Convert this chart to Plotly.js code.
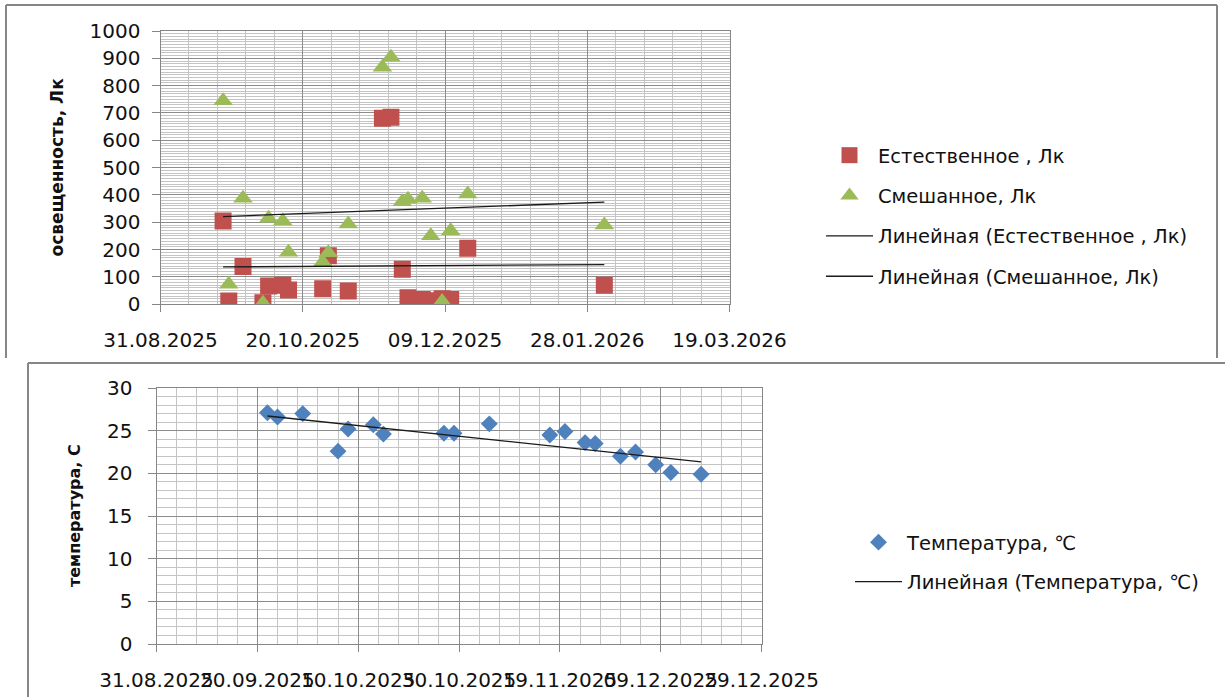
<!DOCTYPE html>
<html>
<head>
<meta charset="utf-8">
<script src="https://cdn.plot.ly/plotly-3.0.1.min.js"></script>
<style>
  html, body { margin: 0; padding: 0; background: #ffffff; }
  #chart { width: 1225px; height: 697px; }
</style>
</head>
<body>
<div id="chart"></div>
<script>
// Measurement dates for the illuminance series
const lightDates = [
  '2025-09-22', '2025-09-24', '2025-09-29', '2025-10-06', '2025-10-08',
  '2025-10-13', '2025-10-15', '2025-10-27', '2025-10-29', '2025-11-05',
  '2025-11-17', '2025-11-20', '2025-11-24', '2025-11-26', '2025-12-01',
  '2025-12-04', '2025-12-08', '2025-12-11', '2025-12-17', '2026-02-03'
];
// Natural light, lx
const naturalLux = [305, 12, 138, 6, 67, 70, 52, 57, 178, 49, 681, 684, 128, 24, 18, 13, 20, 18, 205, 70];
// Mixed light, lx
const mixedLux = [745, 73, 388, 4, 315, 305, 190, 154, 189, 294, 867, 904, 375, 384, 388, 251, 10, 269, 404, 290];

// Measurement dates for air temperature
const tempDates = [
  '2025-09-22', '2025-09-24', '2025-09-29', '2025-10-06', '2025-10-08',
  '2025-10-13', '2025-10-15', '2025-10-27', '2025-10-29', '2025-11-05',
  '2025-11-17', '2025-11-20', '2025-11-24', '2025-11-26', '2025-12-01',
  '2025-12-04', '2025-12-08', '2025-12-11', '2025-12-17'
];
// Air temperature, °C
const temperatureC = [27.1, 26.6, 27.0, 22.6, 25.2, 25.7, 24.6, 24.7, 24.7, 25.8, 24.5, 24.9, 23.6, 23.5, 22.0, 22.5, 21.0, 20.1, 19.9];

const seriesNames = {
  natural: 'Естественное , Лк',
  mixed: 'Смешанное, Лк',
  naturalTrend: 'Линейная (Естественное , Лк)',
  mixedTrend: 'Линейная (Смешанное, Лк)',
  temp: 'Температура, ℃',
  tempTrend: 'Линейная (Температура, ℃)'
};

const DAY = 86400000;

// Least-squares line over the date span of a series
function linearTrend(dates, values) {
  const xs = dates.map(d => Date.parse(d) / DAY);
  const n = xs.length;
  const mx = xs.reduce((a, b) => a + b, 0) / n;
  const my = values.reduce((a, b) => a + b, 0) / n;
  let sxy = 0, sxx = 0;
  for (let i = 0; i < n; i++) {
    sxy += (xs[i] - mx) * (values[i] - my);
    sxx += (xs[i] - mx) * (xs[i] - mx);
  }
  const k = sxy / sxx;
  const b = my - k * mx;
  const x0 = Math.min(...xs), x1 = Math.max(...xs);
  const iso = t => new Date(t * DAY).toISOString().slice(0, 10);
  return { x: [iso(x0), iso(x1)], y: [k * x0 + b, k * x1 + b] };
}

const W = 1225, H = 697;
const fx = p => p / W;          // pixel column -> paper x
const fy = p => 1 - p / H;      // pixel row -> paper y

const FONT = 'DejaVu Sans, sans-serif';
const TXT = '#111111';
const AXIS = '#868686';
const MAJOR = '#8c8c8c';
const MINOR = '#c4c4c4';

const trendNat = linearTrend(lightDates, naturalLux);
const trendMix = linearTrend(lightDates, mixedLux);
const trendTemp = linearTrend(tempDates, temperatureC);

const traces = [
  {
    x: lightDates, y: naturalLux, name: seriesNames.natural, type: 'scatter', mode: 'markers',
    marker: { symbol: 'square', size: 17, color: '#C0504D' },
    xaxis: 'x', yaxis: 'y', legend: 'legend', legendgroup: 'g1'
  },
  {
    x: lightDates, y: mixedLux, name: seriesNames.mixed, type: 'scatter', mode: 'markers',
    marker: { symbol: 'triangle-up', size: 17, color: '#9BBB59' },
    xaxis: 'x', yaxis: 'y', legend: 'legend', legendgroup: 'g2'
  },
  {
    x: trendNat.x, y: trendNat.y, name: seriesNames.naturalTrend, type: 'scatter', mode: 'lines',
    line: { color: '#1a1a1a', width: 1.3 },
    xaxis: 'x', yaxis: 'y', legend: 'legend', legendgroup: 'g3'
  },
  {
    x: trendMix.x, y: trendMix.y, name: seriesNames.mixedTrend, type: 'scatter', mode: 'lines',
    line: { color: '#1a1a1a', width: 1.3 },
    xaxis: 'x', yaxis: 'y', legend: 'legend', legendgroup: 'g4'
  },
  {
    x: tempDates, y: temperatureC, name: seriesNames.temp, type: 'scatter', mode: 'markers',
    marker: { symbol: 'diamond', size: 13, color: '#4F81BD' },
    xaxis: 'x2', yaxis: 'y2', legend: 'legend2', legendgroup: 'g5'
  },
  {
    x: trendTemp.x, y: trendTemp.y, name: seriesNames.tempTrend, type: 'scatter', mode: 'lines',
    line: { color: '#1a1a1a', width: 1.3 },
    xaxis: 'x2', yaxis: 'y2', legend: 'legend2', legendgroup: 'g6'
  }
];

const tickFont = { family: FONT, size: 20, color: TXT };

function dateAxis(domain, range, majorDays, minorDays, anchor) {
  return {
    domain: domain, anchor: anchor, type: 'date', range: range,
    tick0: range[0], dtick: majorDays * DAY, tickformat: '%d.%m.%Y',
    tickangle: 0, ticks: 'outside', ticklen: 7, tickwidth: 1, tickcolor: AXIS,
    ticklabelstandoff: 11,
    showline: true, linecolor: AXIS, linewidth: 1, mirror: true,
    showgrid: true, gridcolor: MAJOR, gridwidth: 1, zeroline: false,
    minor: { tick0: range[0], dtick: minorDays * DAY, showgrid: true, gridcolor: MINOR, gridwidth: 1, ticks: '' },
    tickfont: tickFont, fixedrange: true
  };
}

function valueAxis(domain, range, major, minor, anchor, standoff) {
  return {
    domain: domain, anchor: anchor, range: range,
    tick0: 0, dtick: major, ticks: 'outside', ticklen: 8, tickwidth: 1, tickcolor: AXIS,
    ticklabelstandoff: standoff,
    showline: true, linecolor: AXIS, linewidth: 1, mirror: true,
    showgrid: true, gridcolor: MAJOR, gridwidth: 1, zeroline: false,
    minor: { tick0: 0, dtick: minor, showgrid: true, gridcolor: MINOR, gridwidth: 1, ticks: '' },
    tickfont: tickFont, fixedrange: true
  };
}

const frame = { color: AXIS, width: 2 };

const legendBase = {
  xanchor: 'left', yanchor: 'top',
  font: { family: FONT, size: 19.5, color: TXT },
  bgcolor: 'rgba(0,0,0,0)', borderwidth: 0,
  tracegroupgap: 12, itemwidth: 47, traceorder: 'grouped'
};

const layout = {
  width: W, height: H,
  margin: { l: 0, r: 0, t: 0, b: 0 },
  paper_bgcolor: '#ffffff', plot_bgcolor: '#ffffff',
  font: { family: FONT, color: TXT },
  hovermode: false,
  xaxis: dateAxis([fx(160.5), fx(729.5)], ['2025-08-31', '2026-03-19'], 50, 10, 'y'),
  yaxis: valueAxis([fy(304.3), fy(31)], [0, 1000], 100, 10, 'x', 7),
  xaxis2: dateAxis([fx(156.5), fx(761.6)], ['2025-08-31', '2025-12-29'], 20, 4, 'y2'),
  yaxis2: valueAxis([fy(644), fy(388)], [0, 30], 5, 1, 'x2', 11),
  legend: Object.assign({}, legendBase, { x: fx(821), y: fy(136) }),
  legend2: Object.assign({}, legendBase, { x: fx(850), y: fy(523), tracegroupgap: 11 }),
  annotations: [
    {
      text: '<b>освещенность, Лк</b>', xref: 'paper', yref: 'paper',
      x: fx(56), y: fy(167.5), xanchor: 'center', yanchor: 'middle',
      textangle: -90, showarrow: false,
      font: { family: FONT, size: 17, color: TXT }
    },
    {
      text: '<b>температура, С</b>', xref: 'paper', yref: 'paper',
      x: fx(74), y: fy(516), xanchor: 'center', yanchor: 'middle',
      textangle: -90, showarrow: false,
      font: { family: FONT, size: 16, color: TXT }
    }
  ],
  shapes: [
    // upper chart frame
    { type: 'line', xref: 'paper', yref: 'paper', x0: fx(6), x1: fx(6), y0: fy(5), y1: fy(358), line: frame },
    { type: 'line', xref: 'paper', yref: 'paper', x0: fx(6), x1: fx(1217), y0: fy(5), y1: fy(5), line: frame },
    { type: 'line', xref: 'paper', yref: 'paper', x0: fx(1217), x1: fx(1217), y0: fy(5), y1: fy(358), line: frame },
    // lower chart frame
    { type: 'line', xref: 'paper', yref: 'paper', x0: fx(28), x1: fx(1226), y0: fy(363), y1: fy(363), line: frame },
    { type: 'line', xref: 'paper', yref: 'paper', x0: fx(28), x1: fx(28), y0: fy(363), y1: fy(698), line: frame }
  ]
};

Plotly.newPlot('chart', traces, layout, { displayModeBar: false, staticPlot: true });
</script>
</body>
</html>
